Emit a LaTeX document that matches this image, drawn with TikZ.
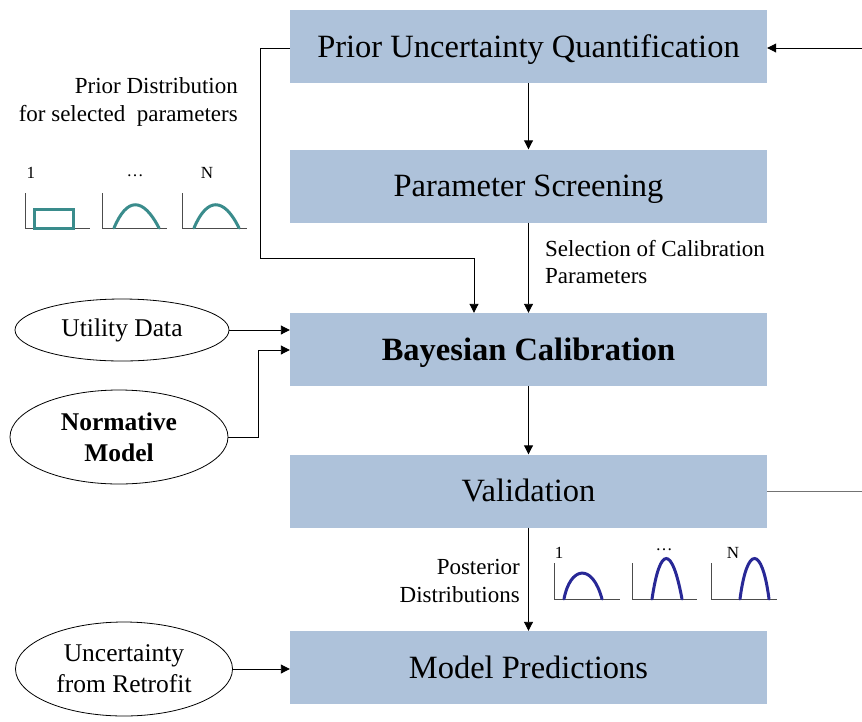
\documentclass[tikz,border=0pt]{standalone}
\usepackage{fontspec}
\setmainfont{Liberation Serif}
\usetikzlibrary{arrows.meta,shapes.geometric}
\definecolor{boxblue}{RGB}{174,194,218}
\definecolor{tealc}{RGB}{58,140,140}
\definecolor{navyc}{RGB}{40,40,150}
\tikzset{
  box/.style={fill=boxblue, draw=none, minimum width=477pt, minimum height=73pt, inner sep=0pt, text height=28pt, text depth=7pt, font=\fontsize{32.5}{36}\selectfont},
  ell/.style={ellipse, draw=black, line width=0.8pt, inner sep=0pt, align=center, font=\fontsize{25.5}{31}\selectfont},
  arr/.style={line width=0.9pt, -{Triangle[length=9pt,width=9pt]}},
  ln/.style={line width=0.9pt},
  lbl/.style={font=\fontsize{23}{27.5}\selectfont, inner sep=0pt},
  axis/.style={line width=0.9pt, draw=black!70},
  tealcurve/.style={line width=3pt, draw=tealc, line cap=round},
  navycurve/.style={line width=3pt, draw=navyc, line cap=round},
  tick/.style={font=\fontsize{17}{17}\selectfont, inner sep=0pt}
}
\begin{document}
\begin{tikzpicture}[x=1pt,y=-1pt]
\useasboundingbox (0,0) rectangle (862,721);
% boxes
\node[box] (puq) at (528.5,46.5) {Prior Uncertainty Quantification};
\node[box] (ps) at (528.5,186) {Parameter Screening};
\node[box, font=\fontsize{32.5}{36}\selectfont\bfseries] (bc) at (528.5,349.5) {Bayesian Calibration};
\node[box] (val) at (528.5,491) {Validation};
\node[box] (mp) at (528.5,667.5) {Model Predictions};
% ellipses
\node[ell, minimum width=214pt, minimum height=62pt] (ud) at (122,330) {Utility Data};
\node[ell, minimum width=218pt, minimum height=94pt, font=\fontsize{25.5}{31}\selectfont\bfseries] (nm) at (119,437) {Normative\\Model};
\node[ell, minimum width=217pt, minimum height=94pt] (ur) at (124,669) {Uncertainty\\from Retrofit};
% main arrows
\draw[arr] (puq.south) -- (ps.north);
\draw[arr] (ps.south) -- (bc.north);
\draw[arr] (bc.south) -- (val.north);
\draw[arr] (val.south) -- (mp.north);
% prior branch
\coordinate (c1) at (260,48);
\coordinate (c2) at (260,258);
\coordinate (c3) at (474,258);
\draw[arr] (puq.west |- c1) -- (c1) -- (c2) -- (c3) -- (c3 |- bc.north);
% ellipse inputs
\draw[arr] (ud.east) -- (bc.west |- ud.east);
\coordinate (c4) at (258,437);
\coordinate (c5) at (258,350);
\draw[arr] (nm.east) -- (c4) -- (c5) -- (bc.west |- c5);
\draw[arr] (ur.east) -- (mp.west |- ur.east);
% feedback loop (vertical part falls outside the page)
\coordinate (c6) at (870,491);
\coordinate (c7) at (870,48);
\draw[ln, draw=black!55] (val.east) -- (c6) -- (c7);
\draw[arr] (c7) -- (puq.east |- c7);
% labels
\node[lbl, anchor=west, align=left] (selp) at (545,262) {Selection of Calibration\\Parameters};
\node[lbl, anchor=east, align=right] (post) at (520,581) {Posterior\\Distributions};
\node[lbl, anchor=east, align=right] (prd) at (238,102) {Prior Distribution\\for selected\ \ parameters};
% prior small plots
\node[tick] (t1) at (31,173) {1};
\node[tick] (t2) at (135,176) {\dots};
\node[tick] (t3) at (207,173) {N};
\draw[axis] (25,193) -- (25,228) -- (90,228);
\draw[tealcurve] (34,209) rectangle (73,228);
\draw[axis] (102,193) -- (102,228) -- (167,228);
\draw[tealcurve] (114,228) .. controls (127,197) and (143,197) .. (159,228);
\draw[axis] (182,193) -- (182,228) -- (247,228);
\draw[tealcurve] (194,228) .. controls (207,197) and (224,197) .. (239,228);
% posterior small plots
\node[tick] (p1) at (559,553) {1};
\node[tick] (p2) at (664,550) {\dots};
\node[tick] (p3) at (733,553) {N};
\draw[axis] (554,563) -- (554,599) -- (620,599);
\draw[navycurve] (564,599) .. controls (570,567) and (592,562) .. (602,599);
\draw[axis] (632,563) -- (632,599) -- (697,599);
\draw[navycurve] (652,599) .. controls (660,545) and (672,545) .. (682,599);
\draw[axis] (711,563) -- (711,599) -- (777,599);
\draw[navycurve] (740,599) .. controls (747,545) and (762,545) .. (769,599);
\end{tikzpicture}
\end{document}
